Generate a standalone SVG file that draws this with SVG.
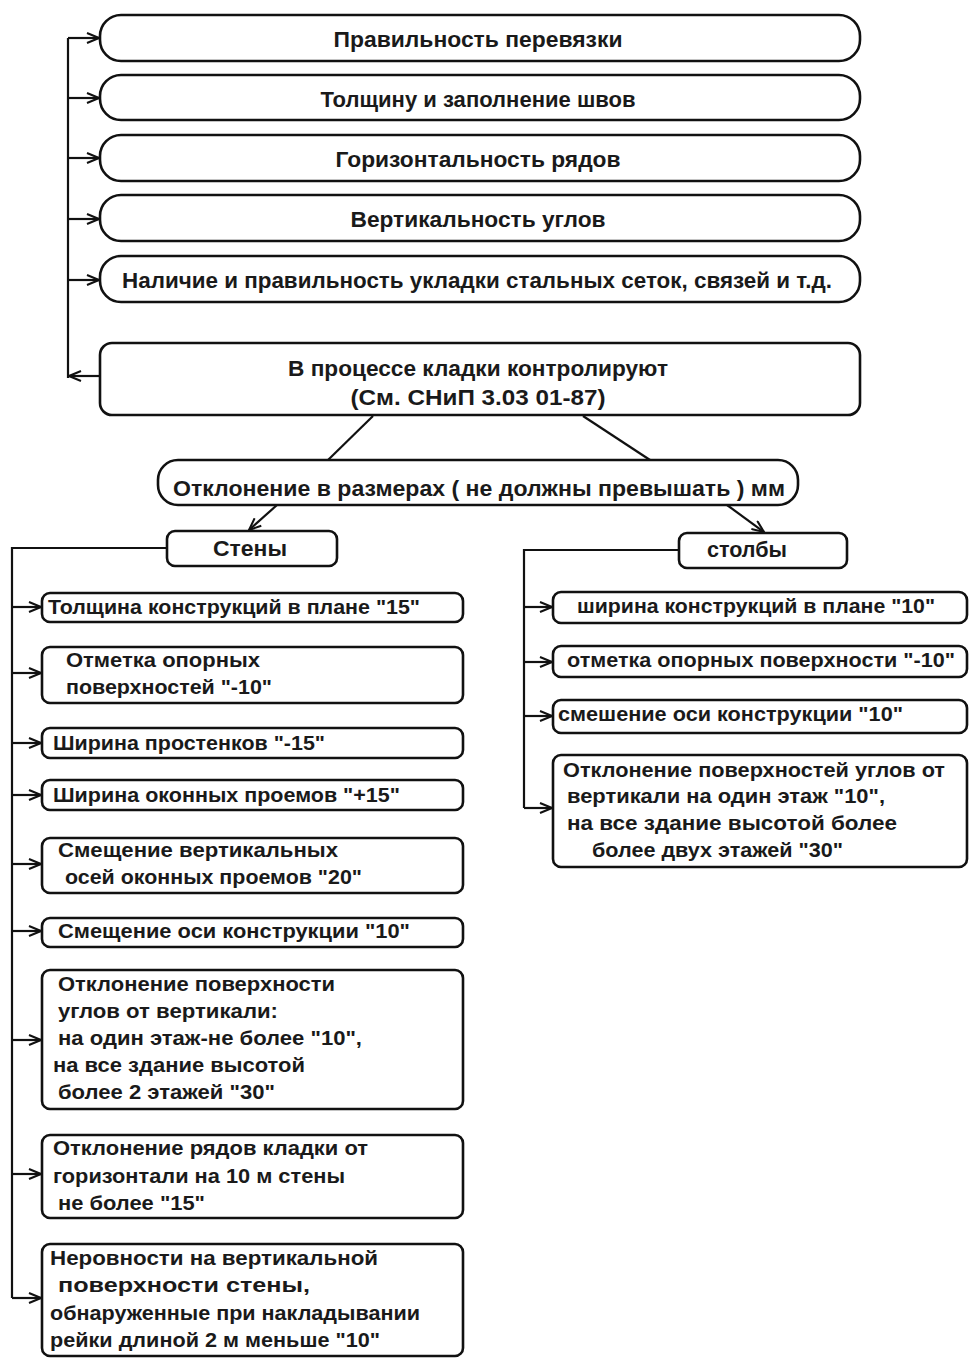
<svg xmlns="http://www.w3.org/2000/svg" width="969" height="1358" viewBox="0 0 969 1358">
<style>
.b{fill:#fff;stroke:#111;stroke-width:2.6}
.c{fill:none;stroke:#111;stroke-width:2.2}
text{font-family:"Liberation Sans",Arial,sans-serif;fill:#1a1a1a;font-size:21px;font-weight:bold}
.t{font-size:22px}
.m{text-anchor:middle}
</style>
<defs>
<marker id="a" viewBox="0 0 14 12" refX="13" refY="6" markerWidth="14" markerHeight="12" markerUnits="userSpaceOnUse" orient="auto">
<path d="M1,1 L13,6 L1,11" fill="none" stroke="#111" stroke-width="2"/>
</marker>
</defs>
<rect width="969" height="1358" fill="#fff"/>
<g id="connectors">
<path class="c" d="M68,38 V378"/>
<path class="c" d="M68,38 H99" marker-end="url(#a)"/>
<path class="c" d="M68,98 H99" marker-end="url(#a)"/>
<path class="c" d="M68,158 H99" marker-end="url(#a)"/>
<path class="c" d="M68,219 H99" marker-end="url(#a)"/>
<path class="c" d="M68,280 H99" marker-end="url(#a)"/>
<path class="c" d="M100,376 H69" marker-end="url(#a)"/>
<path class="c" d="M373,416 L328,460"/>
<path class="c" d="M583,416 L650,460"/>
<path class="c" d="M277,505 L249,530" marker-end="url(#a)"/>
<path class="c" d="M727,505 L764,532" marker-end="url(#a)"/>
<path class="c" d="M167,548 H12 V1298"/>
<path class="c" d="M12,607 H41" marker-end="url(#a)"/>
<path class="c" d="M12,673 H41" marker-end="url(#a)"/>
<path class="c" d="M12,743 H41" marker-end="url(#a)"/>
<path class="c" d="M12,795 H41" marker-end="url(#a)"/>
<path class="c" d="M12,864 H41" marker-end="url(#a)"/>
<path class="c" d="M12,931 H41" marker-end="url(#a)"/>
<path class="c" d="M12,1040 H41" marker-end="url(#a)"/>
<path class="c" d="M12,1174 H41" marker-end="url(#a)"/>
<path class="c" d="M12,1298 H41" marker-end="url(#a)"/>
<path class="c" d="M679,550 H524 V808"/>
<path class="c" d="M524,607 H552" marker-end="url(#a)"/>
<path class="c" d="M524,662 H552" marker-end="url(#a)"/>
<path class="c" d="M524,716 H552" marker-end="url(#a)"/>
<path class="c" d="M524,808 H552" marker-end="url(#a)"/>
</g>
<g id="n1"><rect class="b" x="100" y="15" width="760" height="46" rx="21"/><text class="t m" x="478" y="47" textLength="289" lengthAdjust="spacingAndGlyphs">Правильность перевязки</text></g>
<g id="n2"><rect class="b" x="100" y="75" width="760" height="45" rx="21"/><text class="t m" x="478" y="107" textLength="315" lengthAdjust="spacingAndGlyphs">Толщину и заполнение швов</text></g>
<g id="n3"><rect class="b" x="100" y="135" width="760" height="46" rx="21"/><text class="t m" x="478" y="167" textLength="285" lengthAdjust="spacingAndGlyphs">Горизонтальность рядов</text></g>
<g id="n4"><rect class="b" x="100" y="195" width="760" height="46" rx="21"/><text class="t m" x="478" y="227" textLength="255" lengthAdjust="spacingAndGlyphs">Вертикальность углов</text></g>
<g id="n5"><rect class="b" x="100" y="256" width="760" height="46" rx="21"/><text class="t" x="122" y="288" textLength="710" lengthAdjust="spacingAndGlyphs">Наличие и правильность укладки стальных сеток, связей и т.д.</text></g>
<g id="main"><rect class="b" x="100" y="343" width="760" height="72" rx="12" stroke-width="3"/><text class="t m" x="478" y="376" textLength="380" lengthAdjust="spacingAndGlyphs">В процессе кладки контролируют</text><text class="t m" x="478" y="405" textLength="255" lengthAdjust="spacingAndGlyphs">(См. СНиП 3.03 01-87)</text></g>
<g id="dev"><rect class="b" x="158" y="460" width="640" height="45" rx="20"/><text class="t" x="173" y="496" textLength="612" lengthAdjust="spacingAndGlyphs">Отклонение в размерах ( не должны превышать ) мм</text></g>
<g id="walls"><rect class="b" x="167" y="531" width="170" height="35" rx="8"/><text class="t m" x="250" y="556" textLength="74" lengthAdjust="spacingAndGlyphs">Стены</text></g>
<g id="pillars"><rect class="b" x="679" y="533" width="168" height="35" rx="8"/><text class="t m" x="747" y="557" textLength="80" lengthAdjust="spacingAndGlyphs">столбы</text></g>
<g id="w1"><rect class="b" x="42" y="593" width="421" height="29" rx="8"/><text x="48" y="614" textLength="372" lengthAdjust="spacingAndGlyphs">Толщина конструкций в плане "15"</text></g>
<g id="w2"><rect class="b" x="42" y="647" width="421" height="56" rx="8"/><text x="66" y="667" textLength="194" lengthAdjust="spacingAndGlyphs">Отметка опорных</text><text x="66" y="694" textLength="206" lengthAdjust="spacingAndGlyphs">поверхностей "-10"</text></g>
<g id="w3"><rect class="b" x="42" y="728" width="421" height="30" rx="8"/><text x="53" y="750" textLength="272" lengthAdjust="spacingAndGlyphs">Ширина простенков "-15"</text></g>
<g id="w4"><rect class="b" x="42" y="780" width="421" height="30" rx="8"/><text x="53" y="802" textLength="347" lengthAdjust="spacingAndGlyphs">Ширина оконных проемов "+15"</text></g>
<g id="w5"><rect class="b" x="42" y="838" width="421" height="55" rx="8"/><text x="58" y="857" textLength="280" lengthAdjust="spacingAndGlyphs">Смещение вертикальных</text><text x="65" y="884" textLength="297" lengthAdjust="spacingAndGlyphs">осей оконных проемов "20"</text></g>
<g id="w6"><rect class="b" x="42" y="918" width="421" height="29" rx="8"/><text x="58" y="938" textLength="352" lengthAdjust="spacingAndGlyphs">Смещение оси конструкции "10"</text></g>
<g id="w7"><rect class="b" x="42" y="970" width="421" height="139" rx="8"/><text x="58" y="991" textLength="277" lengthAdjust="spacingAndGlyphs">Отклонение поверхности</text><text x="58" y="1018" textLength="220" lengthAdjust="spacingAndGlyphs">углов от вертикали:</text><text x="58" y="1045" textLength="304" lengthAdjust="spacingAndGlyphs">на один этаж-не более "10",</text><text x="53" y="1072" textLength="252" lengthAdjust="spacingAndGlyphs">на все здание высотой</text><text x="58" y="1099" textLength="217" lengthAdjust="spacingAndGlyphs">более 2 этажей "30"</text></g>
<g id="w8"><rect class="b" x="42" y="1135" width="421" height="83" rx="8"/><text x="53" y="1155" textLength="315" lengthAdjust="spacingAndGlyphs">Отклонение рядов кладки от</text><text x="53" y="1183" textLength="292" lengthAdjust="spacingAndGlyphs">горизонтали на 10 м стены</text><text x="58" y="1210" textLength="147" lengthAdjust="spacingAndGlyphs">не более "15"</text></g>
<g id="w9"><rect class="b" x="42" y="1244" width="421" height="112" rx="8"/><text x="50" y="1265" textLength="328" lengthAdjust="spacingAndGlyphs">Неровности на  вертикальной</text><text x="58" y="1292" textLength="252" lengthAdjust="spacingAndGlyphs">поверхности стены,</text><text x="50" y="1320" textLength="370" lengthAdjust="spacingAndGlyphs">обнаруженные при накладывании</text><text x="50" y="1347" textLength="330" lengthAdjust="spacingAndGlyphs">рейки длиной 2 м меньше "10"</text></g>
<g id="p1"><rect class="b" x="553" y="592" width="414" height="31" rx="8"/><text x="577" y="613" textLength="358" lengthAdjust="spacingAndGlyphs">ширина конструкций в плане "10"</text></g>
<g id="p2"><rect class="b" x="553" y="646" width="414" height="31" rx="8"/><text x="567" y="667" textLength="388" lengthAdjust="spacingAndGlyphs">отметка опорных поверхности "-10"</text></g>
<g id="p3"><rect class="b" x="553" y="700" width="414" height="33" rx="8"/><text x="558" y="721" textLength="345" lengthAdjust="spacingAndGlyphs">смешение оси конструкции "10"</text></g>
<g id="p4"><rect class="b" x="553" y="755" width="414" height="112" rx="8"/><text x="563" y="777" textLength="382" lengthAdjust="spacingAndGlyphs">Отклонение поверхностей углов от</text><text x="567" y="803" textLength="318" lengthAdjust="spacingAndGlyphs">вертикали на один этаж "10",</text><text x="567" y="830" textLength="330" lengthAdjust="spacingAndGlyphs">на все здание высотой  более</text><text x="592" y="857" textLength="251" lengthAdjust="spacingAndGlyphs">более двух этажей "30"</text></g>
</svg>
